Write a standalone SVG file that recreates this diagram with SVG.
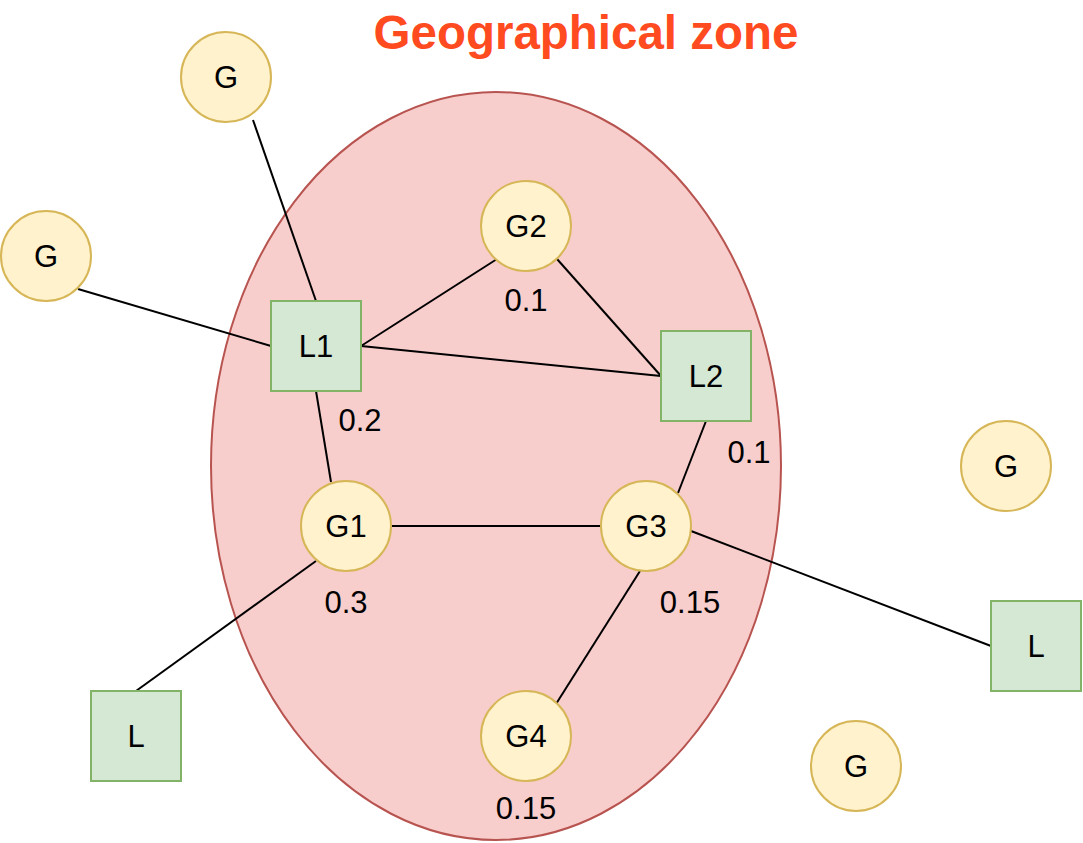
<svg xmlns="http://www.w3.org/2000/svg" width="1083" height="843" viewBox="0 0 1083 843">
<style>
.g{fill:#fff2cc;stroke:#d6b656;stroke-width:2}
.l{fill:#d5e8d4;stroke:#82b366;stroke-width:2}
text{font-family:"Liberation Sans",Arial,sans-serif;font-size:31px;fill:#000;text-anchor:middle;dominant-baseline:central}
.c line{stroke:#000;stroke-width:2}
</style>
<rect width="1083" height="843" fill="#fff"/>
<text x="586" y="32" style="font-size:47.5px;font-weight:bold;fill:#ff4b1f">Geographical zone</text>
<g id="zone"><ellipse cx="496" cy="466" rx="285" ry="374" fill="#f8cecc" stroke="#b85450" stroke-width="2"/></g>
<g class="c" id="connectors">
<line x1="253" y1="120" x2="316" y2="301"/>
<line x1="78" y1="289" x2="271" y2="346"/>
<line x1="361" y1="346" x2="497" y2="259"/>
<line x1="557" y1="259" x2="661" y2="376"/>
<line x1="361" y1="346" x2="661" y2="376"/>
<line x1="316" y1="391" x2="331" y2="482"/>
<line x1="391" y1="526" x2="601" y2="526"/>
<line x1="706" y1="421" x2="678" y2="493"/>
<line x1="691" y1="531" x2="991" y2="646"/>
<line x1="316" y1="561" x2="136" y2="691"/>
<line x1="640" y1="571" x2="556" y2="704"/>
</g>
<g id="n1"><circle class="g" cx="226" cy="77" r="45"/><text x="226" y="77">G</text></g>
<g id="n2"><circle class="g" cx="46" cy="256" r="45"/><text x="46" y="256">G</text></g>
<g id="G2"><circle class="g" cx="526" cy="226" r="45"/><text x="526" y="226">G2</text></g>
<g id="G1"><circle class="g" cx="346" cy="526" r="45"/><text x="346" y="526">G1</text></g>
<g id="G3"><circle class="g" cx="646" cy="526" r="45"/><text x="646" y="526">G3</text></g>
<g id="G4"><circle class="g" cx="526" cy="736" r="45"/><text x="526" y="736">G4</text></g>
<g id="n3"><circle class="g" cx="1006" cy="466" r="45"/><text x="1006" y="466">G</text></g>
<g id="n4"><circle class="g" cx="856" cy="766" r="45"/><text x="856" y="766">G</text></g>
<g id="L1"><rect class="l" x="271" y="301" width="90" height="90"/><text x="316" y="346">L1</text></g>
<g id="L2"><rect class="l" x="661" y="331" width="90" height="90"/><text x="706" y="376">L2</text></g>
<g id="n5"><rect class="l" x="91" y="691" width="90" height="90"/><text x="136" y="736">L</text></g>
<g id="n6"><rect class="l" x="991" y="601" width="90" height="90"/><text x="1036" y="646">L</text></g>
<g id="labels">
<text x="526" y="300">0.1</text>
<text x="360" y="420">0.2</text>
<text x="749" y="452">0.1</text>
<text x="346" y="602">0.3</text>
<text x="690" y="602">0.15</text>
<text x="526" y="808">0.15</text>
</g>
</svg>
